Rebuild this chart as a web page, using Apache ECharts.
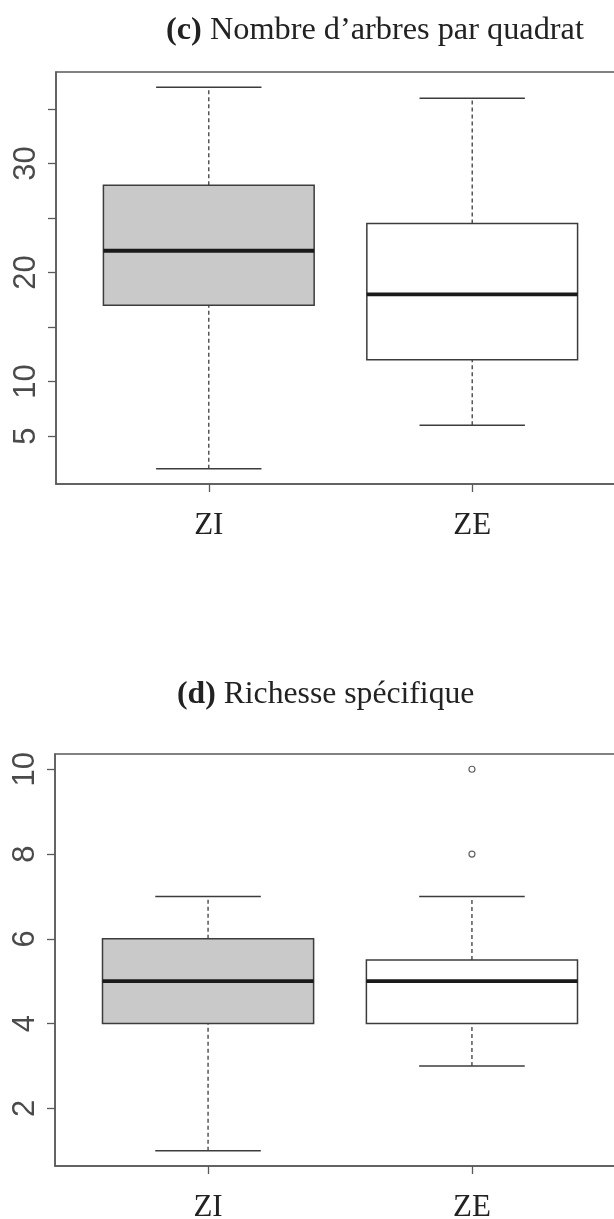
<!DOCTYPE html>
<html>
<head>
<meta charset="utf-8">
<script src="https://cdn.jsdelivr.net/npm/echarts@6/dist/echarts.min.js"></script>
<style>
  html, body { margin: 0; padding: 0; background: #ffffff; }
  #chart { width: 614px; height: 1219px; }
</style>
</head>
<body>
<div id="chart"></div>
<script>
// ---------- data ----------
const categories = ['ZI', 'ZE'];

// (c) Nombre d'arbres par quadrat
const treesMin = [2, 6];
const treesQ1 = [17, 12];
const treesMedian = [22, 18];
const treesQ3 = [28, 24.5];
const treesMax = [37, 36];
const treesTickValues = [5, 10, 15, 20, 25, 30, 35];
const treesTickLabels = [5, 10, 20, 30];

// (d) Richesse spécifique
const richMin = [1, 3];
const richQ1 = [4, 4];
const richMedian = [5, 5];
const richQ3 = [6, 5.5];
const richMax = [7, 7];
const richOutlierGroup = ['ZE', 'ZE'];
const richOutlierValue = [8, 10];
const richTickValues = [2, 4, 6, 8, 10];
const richTickLabels = [2, 4, 6, 8, 10];

const titleTop = 'Nombre d’arbres par quadrat';
const titleBottom = 'Richesse spécifique';

// ---------- styles ----------
const boxFill = ['#c9c9c9', '#ffffff'];
const lineColor = '#3c3c3c';
const frameColor = '#5a5a5a';
const labelColor = '#4a4a4a';

// ---------- helpers ----------
function boxData(mn, q1, md, q3, mx) {
  return categories.map((c, i) => [i + 1, mn[i], q1[i], md[i], q3[i], mx[i]]);
}
function rRange(vals) { // R default 4% axis extension
  const lo = Math.min(...vals), hi = Math.max(...vals);
  const pad = 0.04 * (hi - lo);
  return [lo - pad, hi + pad];
}
const xPad = 0.04 * categories.length;
const xMin = 0.5 - xPad, xMax = categories.length + 0.5 + xPad;

const treesRange = rRange([...treesMin, ...treesMax]);
const richRange = rRange([...richMin, ...richMax, ...richOutlierValue]);

function renderBox(params, api) {
  const x = api.value(0);
  const mn = api.value(1), q1 = api.value(2), md = api.value(3), q3 = api.value(4), mx = api.value(5);
  const half = 0.4, cap = 0.2;
  const c = (xx, yy) => api.coord([xx, yy]);
  const pMin = c(x, mn), pQ1 = c(x, q1), pMd = c(x, md), pQ3 = c(x, q3), pMax = c(x, mx);
  const xl = c(x - half, md)[0], xr = c(x + half, md)[0];
  const cl = c(x - cap, md)[0], cr = c(x + cap, md)[0];
  const fill = boxFill[params.dataIndex % boxFill.length];
  const dashed = { stroke: lineColor, lineWidth: 1.3, lineDash: [4, 3] };
  const solid = { stroke: lineColor, lineWidth: 1.5 };
  return {
    type: 'group',
    children: [
      { type: 'line', shape: { x1: pMin[0], y1: pMin[1], x2: pQ1[0], y2: pQ1[1] }, style: dashed },
      { type: 'line', shape: { x1: pQ3[0], y1: pQ3[1], x2: pMax[0], y2: pMax[1] }, style: dashed },
      { type: 'line', shape: { x1: cl, y1: pMin[1], x2: cr, y2: pMin[1] }, style: solid },
      { type: 'line', shape: { x1: cl, y1: pMax[1], x2: cr, y2: pMax[1] }, style: solid },
      { type: 'rect', shape: { x: xl, y: pQ3[1], width: xr - xl, height: pQ1[1] - pQ3[1] },
        style: { fill: fill, stroke: lineColor, lineWidth: 1.5 } },
      { type: 'line', shape: { x1: xl, y1: pMd[1], x2: xr, y2: pMd[1] },
        style: { stroke: '#1a1a1a', lineWidth: 3.8 } }
    ]
  };
}

function xAxisDef(gridIndex) {
  return {
    type: 'value', gridIndex: gridIndex, min: xMin, max: xMax,
    splitLine: { show: false },
    axisLine: { show: true, onZero: false, lineStyle: { color: frameColor, width: 1.5 } },
    axisTick: { show: true, customValues: categories.map((c, i) => i + 1), length: 8,
      lineStyle: { color: frameColor, width: 1.3 } },
    axisLabel: { show: true, customValues: categories.map((c, i) => i + 1),
      formatter: v => categories[Math.round(v) - 1] || '',
      margin: 26, fontFamily: 'Liberation Serif', fontSize: 31, color: '#222' }
  };
}
function yAxisDef(gridIndex, range, ticks, labels) {
  return {
    type: 'value', gridIndex: gridIndex, min: range[0], max: range[1],
    splitLine: { show: false },
    axisLine: { show: true, onZero: false, lineStyle: { color: frameColor, width: 1.5 } },
    axisTick: { show: true, customValues: ticks, length: 8, lineStyle: { color: frameColor, width: 1.3 } },
    axisLabel: { show: true, customValues: labels, rotate: 90, margin: 14,
      fontFamily: 'Liberation Sans', fontSize: 31, color: labelColor }
  };
}

function titleDef(tag, text, left, top, size) {
  return {
    text: '{b|' + tag + '} ' + text, left: left, top: top, padding: 0,
    textStyle: { fontFamily: 'Liberation Serif', fontSize: size, fontWeight: 'normal', color: '#222',
      rich: { b: { fontFamily: 'Liberation Serif', fontSize: size, fontWeight: 'bold', color: '#222' } } }
  };
}

const chart = echarts.init(document.getElementById('chart'), null, { renderer: 'canvas' });
chart.setOption({
  backgroundColor: '#ffffff',
  animation: false,
  title: [
    titleDef('(c)', titleTop, 166, 15, 32.3),
    titleDef('(d)', titleBottom, 177, 679, 31.7)
  ],
  grid: [
    { left: 56, top: 72, right: -11, height: 412, show: true, borderColor: frameColor, borderWidth: 1.5,
      backgroundColor: 'transparent', containLabel: false, outerBoundsMode: 'none' },
    { left: 55, top: 754, right: -11, height: 412, show: true, borderColor: frameColor, borderWidth: 1.5,
      backgroundColor: 'transparent', containLabel: false, outerBoundsMode: 'none' }
  ],
  xAxis: [xAxisDef(0), xAxisDef(1)],
  yAxis: [
    yAxisDef(0, treesRange, treesTickValues, treesTickLabels),
    yAxisDef(1, richRange, richTickValues, richTickLabels)
  ],
  series: [
    { type: 'custom', xAxisIndex: 0, yAxisIndex: 0, renderItem: renderBox,
      data: boxData(treesMin, treesQ1, treesMedian, treesQ3, treesMax),
      encode: { x: 0, y: [1, 2, 3, 4, 5] }, clip: false },
    { type: 'custom', xAxisIndex: 1, yAxisIndex: 1, renderItem: renderBox,
      data: boxData(richMin, richQ1, richMedian, richQ3, richMax),
      encode: { x: 0, y: [1, 2, 3, 4, 5] }, clip: false },
    { type: 'scatter', xAxisIndex: 1, yAxisIndex: 1, symbol: 'circle', symbolSize: 6,
      itemStyle: { color: '#ffffff', borderColor: lineColor, borderWidth: 1.2 },
      data: richOutlierGroup.map((g, i) => [categories.indexOf(g) + 1, richOutlierValue[i]]) }
  ]
});
</script>
</body>
</html>
